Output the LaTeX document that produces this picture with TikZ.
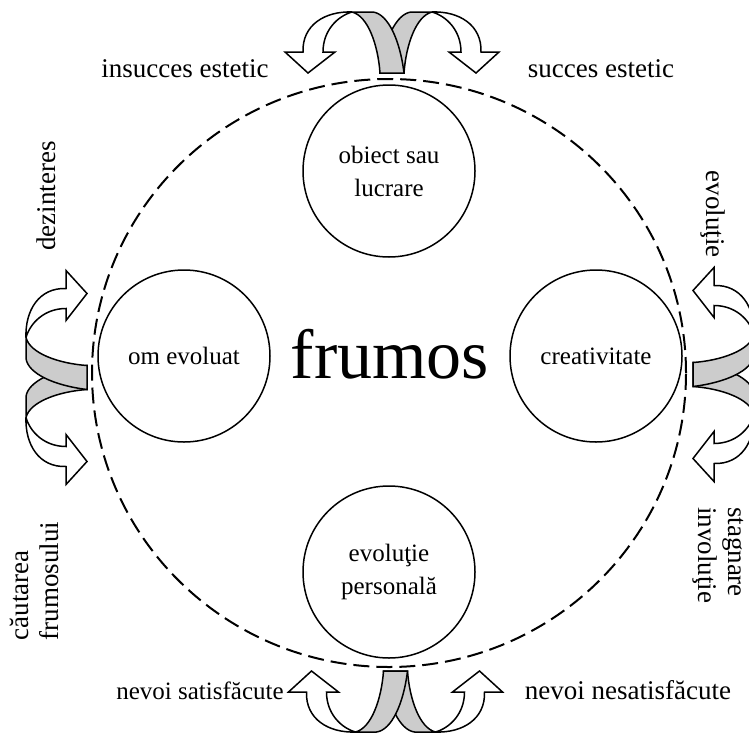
\documentclass[tikz,border=0pt]{standalone}
\usepackage{fontspec}
\setmainfont{Liberation Serif}
\usetikzlibrary{shapes.geometric, positioning}
\tikzstyle{ring} = [ellipse, draw=black, line width=2pt, dash pattern=on 16pt off 7pt, minimum width=594pt, minimum height=588pt, inner sep=0pt]
\tikzstyle{bubble} = [circle, draw=black, line width=1.5pt, minimum size=172pt, inner sep=0pt, align=center, font=\fontsize{25}{33}\selectfont]
\tikzstyle{tag} = [inner sep=0pt, align=left, font=\fontsize{27}{30}\selectfont]
\tikzstyle{twist} = [fill=black!20]
\tikzstyle{band} = [draw=black, line width=1.5pt]

% one half of a split arrow, stem at the origin, bending outwards
\newcommand{\bentbranch}{%
  \fill[white] (-89,21) .. controls (-90,48) and (-67,62) .. (-40,61)
    .. controls (-54,57) and (-69,43) .. (-69,21) -- (-57,21) -- (-84,0) -- (-107,21) -- cycle;
  \fill[twist] (-40,61) -- (-19,61) .. controls (-4,59) and (8,33) .. (12,0) -- (-12,0)
    .. controls (-14,28) and (-24,57) .. (-40,61);
  \draw[band] (-89,21) .. controls (-90,48) and (-67,62) .. (-40,61) -- (-19,61)
    .. controls (-4,59) and (8,33) .. (12,0) -- (-12,0)
    .. controls (-14,28) and (-24,57) .. (-40,61)
    .. controls (-54,57) and (-69,43) .. (-69,21) -- (-57,21) -- (-84,0) -- (-107,21) -- cycle;
}
\newcommand{\splitarrow}[1]{%
  \begin{scope}[#1]
    \begin{scope}[xscale=-1]\bentbranch\end{scope}
    \bentbranch
  \end{scope}
}

\begin{document}
\begin{tikzpicture}[x=1pt, y=-1pt]
  \useasboundingbox (0,0) rectangle (749,736);

  \node (ring) [ring] at (389,373) {};

  \node (obiect) [bubble] at (389,171) {obiect sau\\lucrare};
  \node (om) [bubble] at (184,356) {om evoluat};
  \node (creativ) [bubble] at (596,356) {creativitate};
  \node (personal) [bubble] at (389,572) {evoluţie\\personală};

  \node (frumos) [inner sep=0pt, anchor=base, font=\fontsize{70}{80}\selectfont] at (390,378) {frumos};

  % split arrows
  \splitarrow{shift={(392,73)}, yscale=-1}
  \splitarrow{shift={(395.5,671)}}
  \splitarrow{shift={(87,377.5)}, rotate=-90}
  \splitarrow{shift={(693,374.5)}, rotate=90, xscale=-1}

  \node (insucces) [tag, anchor=base] at (185,77) {insucces estetic};
  \node (succes) [tag, anchor=base] at (601,77) {succes estetic};
  \node (satisf) [tag, anchor=base, font=\fontsize{25}{30}\selectfont] at (200,699) {nevoi satisfăcute};
  \node (nesatisf) [tag, anchor=base] at (628,699) {nevoi nesatisfăcute};
  \node (dezinteres) [tag, anchor=base, rotate=90] at (55,196) {dezinteres};
  \node (cautarea) [tag, rotate=90] at (34,581) {căutarea\\frumosului};
  \node (evolutie) [tag, anchor=base, rotate=-90] at (706,214) {evoluţie};
  \node (stagnare) [tag, rotate=-90] at (718,555) {stagnare\\involuţie};
\end{tikzpicture}
\end{document}
